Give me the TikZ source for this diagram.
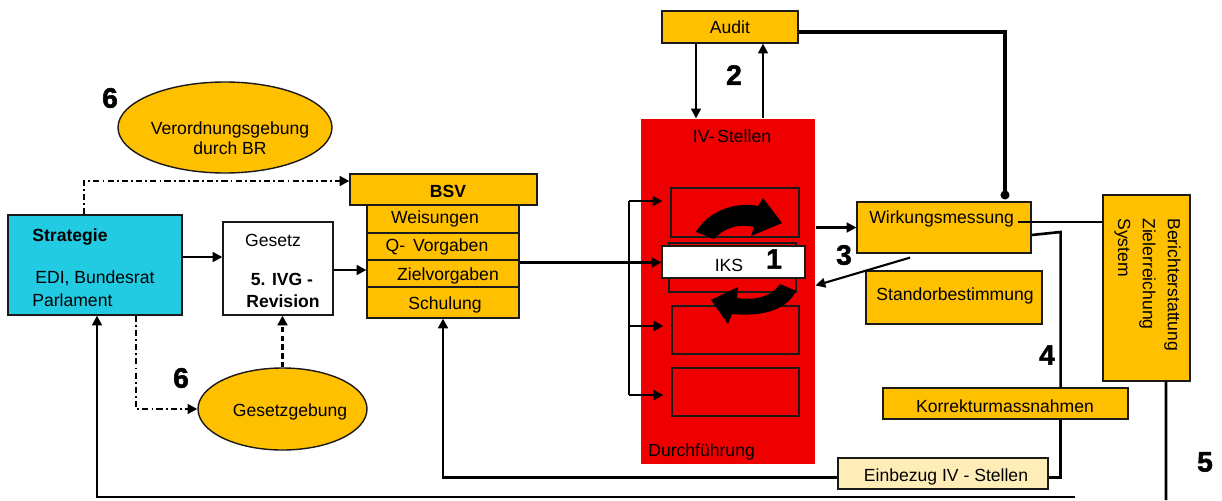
\documentclass[tikz,border=0pt]{standalone}
\usepackage{fontspec}
\setmainfont{Liberation Sans}
\newfontfamily\heavyfont[FakeBold=1.8]{Liberation Sans Bold}
\usetikzlibrary{arrows.meta,calc,shapes.geometric}
\definecolor{gold}{HTML}{FFC000}
\definecolor{cyanb}{HTML}{22CAE2}
\definecolor{redb}{HTML}{EE0000}
\definecolor{lightgold}{HTML}{FFEDB8}
\definecolor{bord}{HTML}{1A1A1A}
\begin{document}
\begin{tikzpicture}[x=0.02cm,y=-0.02cm,
  font=\fontsize{10}{12}\selectfont,
  box/.style={draw=bord, line width=0.7pt, inner sep=0pt, rectangle},
  oval/.style={draw=bord, line width=0.8pt, inner sep=0pt, ellipse, fill=gold},
  pw/.style={minimum width=#1*0.02cm},
  ph/.style={minimum height=#1*0.02cm},
  conn/.style={line width=1.5pt},
  arr/.style={conn, -{Triangle[length=5.5pt,width=5.5pt]}},
  dd/.style={line width=1.4pt, dash pattern=on 3.5pt off 1.8pt on 1pt off 1.8pt},
  lbl/.style={inner sep=0pt},
  bold/.style={font=\fontsize{10}{12}\selectfont\bfseries},
  num/.style={inner sep=0pt, font=\heavyfont\fontsize{16}{16}\selectfont}]

\useasboundingbox (0,0) rectangle (1222,500);

% ---------- left part ----------
\node[box, fill=cyanb, pw=174, ph=100] (strat) at (95,265) {};
\node[lbl, bold, anchor=west] (stratA) at (32,237) {Strategie};
\node[lbl, anchor=west] (stratB) at (35,278) {EDI, Bundesrat};
\node[lbl, anchor=west] (stratC) at (32,300) {Parlament};

\node[box, fill=white, pw=110, ph=93] (ges) at (278,268.5) {};
\node[lbl] (gesA) at (273,240) {Gesetz};
\node[lbl, bold] (gesB) at (282,279) {5. IVG -};
\node[lbl, bold] (gesC) at (283,301) {Revision};

\node[oval, pw=214, ph=91] (vo) at (225,127.5) {};
\node[lbl, align=center, font=\fontsize{10}{11.4}\selectfont] (voT) at (230,138) {Verordnungsgebung\\durch BR};

\node[oval, pw=169, ph=82] (gg) at (282.5,409) {};
\node[lbl] (ggT) at (290,412) {Gesetzgebung};

% ---------- BSV ----------
\node[box, fill=gold, pw=187, ph=31] (bsv) at (443.5,189.5) {};
\node[lbl, bold] (bsvT) at (448,191) {BSV};
\node[box, fill=gold, pw=152, ph=28] (wei) at (443,219) {};
\node[box, fill=gold, pw=152, ph=27] (qv) at (443,246.5) {};
\node[box, fill=gold, pw=152, ph=27] (zv) at (443,273.5) {};
\node[box, fill=gold, pw=152, ph=31] (sch) at (443,302.5) {};
\node[lbl] (weiT) at (435,219) {Weisungen};
\node[lbl] (qvT) at (437,247) {Q-\, Vorgaben};
\node[lbl] (zvT) at (448,276) {Zielvorgaben};
\node[lbl] (schT) at (445,305) {Schulung};

% ---------- red block ----------
\node[box, draw=none, fill=redb, pw=174, ph=345] (red) at (728,291.5) {};
\node[lbl] (redT) at (732,136) {IV-\,Stellen};
\node[lbl, anchor=west] (redB) at (648,452) {Durchführung};
\node[box, fill=redb, pw=128, ph=49] (b1) at (735,212.5) {};
\node[box, fill=redb, pw=127, ph=49] (b2) at (732.5,267.5) {};
\node[box, fill=redb, pw=127, ph=48] (b3) at (735.5,330) {};
\node[box, fill=redb, pw=127, ph=48] (b4) at (735.5,392) {};
\node[box, fill=white, pw=143, ph=32] (iks) at (733.5,262) {};
\node[lbl] (iksT) at (729,265) {IKS};
\fill[black] (696,232) .. controls (707,212) and (735,201) .. (758,206) -- (763,198) -- (782,223) -- (751,236) -- (754,227) .. controls (737,223) and (723,229) .. (714,239) -- cycle;
\fill[black] (796,291) .. controls (787,309) and (765,317) .. (732,314) -- (728,324) -- (711,300) -- (738,287) -- (737,298) .. controls (758,301) and (773,295) .. (780,284) -- cycle;
\node[num] (n1) at (774,259) {1};

% ---------- audit ----------
\node[box, fill=gold, pw=136, ph=32] (audit) at (730,27) {Audit};

% ---------- right part ----------
\node[box, fill=gold, pw=174, ph=51] (wm) at (944,227.5) {};
\node[lbl, anchor=west] (wmT) at (869,219) {Wirkungsmessung};
\node[box, fill=gold, pw=176, ph=53] (sb) at (954,297.5) {};
\node[lbl] (sbT) at (955,296) {Standorbestimmung};
\node[box, fill=gold, pw=87, ph=186] (ber) at (1146.5,288) {};
\node[lbl, rotate=-90, anchor=north west, align=left, font=\fontsize{10}{14.2}\selectfont] (berT) at (1181,218) {Berichterstattung\\Zielerreichung\\System};
\node[box, fill=gold, pw=245, ph=31] (kor) at (1005.5,403.5) {};
\node[lbl] (korT) at (1005,406) {Korrekturmassnahmen};
\node[box, fill=lightgold, pw=210, ph=31] (einb) at (943,473.5) {};
\node[lbl] (einbT) at (946,477) {Einbezug IV - Stellen};

% ---------- numbers ----------
\node[num] (n2) at (734,75) {2};
\node[num] (n3) at (844,255) {3};
\node[num] (n4) at (1047,355) {4};
\node[num] (n5) at (1205,462) {5};
\node[num] (n6a) at (110,98) {6};
\node[num] (n6b) at (181,378) {6};

% ---------- connectors ----------
\draw[arr] ($(strat.east)+(0,-8)$) coordinate (a1) -- (ges.west |- a1);
\draw[arr] ($(ges.east)+(0,1.5)$) coordinate (a2) -- (zv.west |- a2);
\draw[arr] ($(zv.east)+(0,-11)$) coordinate (a3) -- (iks.west |- a3);

\coordinate (brT) at (629,201);
\coordinate (brM) at (629,326);
\coordinate (brB) at (629,395);
\draw[conn] (brT) -- (brB);
\draw[arr, shorten >=0.16cm] (brT) -- (b1.west |- brT);
\draw[arr, shorten >=0.16cm] (brM) -- (b3.west |- brM);
\draw[arr, shorten >=0.16cm] (brB) -- (b4.west |- brB);

\coordinate (a5) at ($(audit.south)+(-34,0)$);
\coordinate (a6) at ($(audit.south)+(33,0)$);
\draw[arr, line width=1.2pt] (a5) -- (red.north -| a5);
\draw[arr, line width=1.2pt] (red.north -| a6) -- (a6);
\coordinate (a7) at ($(audit.east)+(0,5)$);
\coordinate (a7e) at ($(wm.north)+(61,-2)$);
\draw[line width=1.8pt, -{Circle[length=5pt]}] (a7) -| (a7e);

\draw[arr] (red.east |- wm.west) -- (wm.west);
\draw[arr, line width=1.2pt] ($(wm.south)+(-34,4)$) coordinate (a8) -- ($(red.east)+(0,-6)$);
\draw[conn] ($(wm.east)+(-14,-5.5)$) coordinate (a9) -- (ber.west |- a9);
\draw[conn] ($(wm.east)+(0,7.5)$) -- ($(wm.east)+(29,4.5)$) coordinate (a10) -- (kor.north -| a10);
\draw[conn] (kor.south -| a10) |- ($(einb.east)+(0,4)$);
\draw[arr] ($(einb.west)+(0,4)$) -| (sch.south);

\coordinate (bEnd) at (1166,500);
\draw[conn] ($(ber.south)+(19.5,0)$) -- (bEnd);
\coordinate (botR) at (1075,497);
\draw[arr, line width=1.3pt] (botR) -| ($(strat.south)+(2,0)$);

\draw[dd, -{Triangle[length=5.5pt,width=5.5pt]}] ($(strat.north)+(-11,0)$) |- ($(bsv.west)+(0,-8.5)$);
\draw[dd, -{Triangle[length=5.5pt,width=5.5pt]}] ($(strat.south)+(41,0)$) |- (gg.west);
\draw[line width=1.4pt, dash pattern=on 3pt off 2pt, -{Triangle[length=5.5pt,width=5.5pt]}] (gg.north) -- (gg.north |- ges.south);
\end{tikzpicture}
\end{document}
